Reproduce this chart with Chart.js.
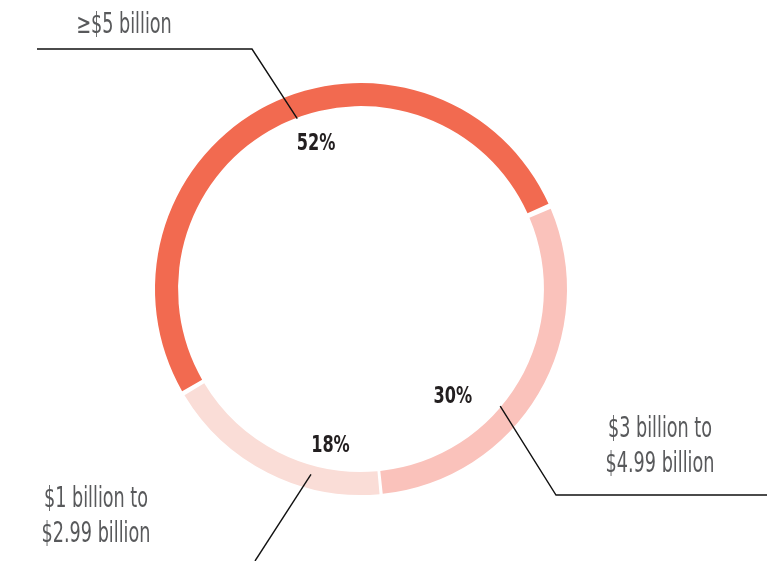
<!DOCTYPE html>
<html>
<head>
<meta charset="utf-8">
<script src="https://cdn.jsdelivr.net/npm/chart.js@4"></script>
<style>
  html, body { margin: 0; padding: 0; background: #fff; }
  #wrap { width: 767px; height: 561px; }
</style>
</head>
<body>
<div id="wrap"><canvas id="chartDonut" width="767" height="561"></canvas></div>
<script>
// ── data ────────────────────────────────────────────────
const categories = ['≥$5 billion', '$3 billion to\n$4.99 billion', '$1 billion to\n$2.99 billion'];
const shares = [52, 30, 18];
const sliceColors = ['#F26A50', '#FAC2BB', '#FADDD7'];

// label placement (angle in degrees clockwise from top, r in px from centre)
const pctSpots = [{ angle: 342.8, r: 152 }, { angle: 139.7, r: 142 }, { angle: 191, r: 160 }];
const leaders = [
  { angle: 339.5, r: 182, path: [[252, 49], [37, 49]], text: [124, 33] },
  { angle: 130.1, r: 182, path: [[556, 495], [767, 495]], text: [660, 437] },
  { angle: 195.1, r: 192, path: [[255, 561]], text: [96, 507] },
];

const FONT = '"Liberation Sans Narrow", "DejaVu Sans Condensed", "DejaVu Sans", sans-serif';

// no condensed face installed, so squeeze the glyphs horizontally
function condensedText(ctx, text, x, y, squeeze) {
  ctx.save();
  ctx.translate(x, y);
  ctx.scale(squeeze, 1);
  ctx.fillText(text, 0, 0);
  ctx.restore();
}

const labelPlugin = {
  id: 'donutLabels',
  afterDraw(chart) {
    const ctx = chart.ctx;
    const arcs = chart.getDatasetMeta(0).data;
    if (!arcs.length) return;
    const cx = arcs[0].x, cy = arcs[0].y;
    const pt = (deg, r) => {
      const a = (deg - 90) * Math.PI / 180;
      return [cx + r * Math.cos(a), cy + r * Math.sin(a)];
    };
    ctx.save();
    ctx.textAlign = 'center';
    // percentages
    ctx.fillStyle = '#231f20';
    ctx.font = `bold 23px ${FONT}`;
    ctx.textBaseline = 'middle';
    shares.forEach((v, i) => {
      const [x, y] = pt(pctSpots[i].angle, pctSpots[i].r);
      condensedText(ctx, v + '%', x, y, 0.78);
    });
    // leader lines + category names
    ctx.strokeStyle = '#111';
    ctx.lineWidth = 1.4;
    ctx.fillStyle = '#58595b';
    ctx.font = `28px ${FONT}`;
    ctx.textBaseline = 'alphabetic';
    leaders.forEach((l, i) => {
      const [sx, sy] = pt(l.angle, l.r);
      ctx.beginPath();
      ctx.moveTo(sx, sy);
      l.path.forEach(([x, y]) => ctx.lineTo(x, y));
      ctx.stroke();
      categories[i].split('\n').forEach((line, k) => {
        condensedText(ctx, line, l.text[0], l.text[1] + k * 35, 0.7);
      });
    });
    ctx.restore();
  },
};

new Chart(document.getElementById('chartDonut'), {
  type: 'doughnut',
  data: {
    labels: categories,
    datasets: [{
      data: shares,
      backgroundColor: sliceColors,
      borderWidth: 0,
      spacing: 4,
    }],
  },
  options: {
    responsive: false,
    animation: false,
    rotation: 239.3,
    radius: 204,
    cutout: '88.7%',
    layout: { padding: { left: 0, right: 45, top: 17, bottom: 0 } },
    plugins: {
      legend: { display: false },
      tooltip: { enabled: false },
    },
  },
  plugins: [labelPlugin],
});
</script>
</body>
</html>
